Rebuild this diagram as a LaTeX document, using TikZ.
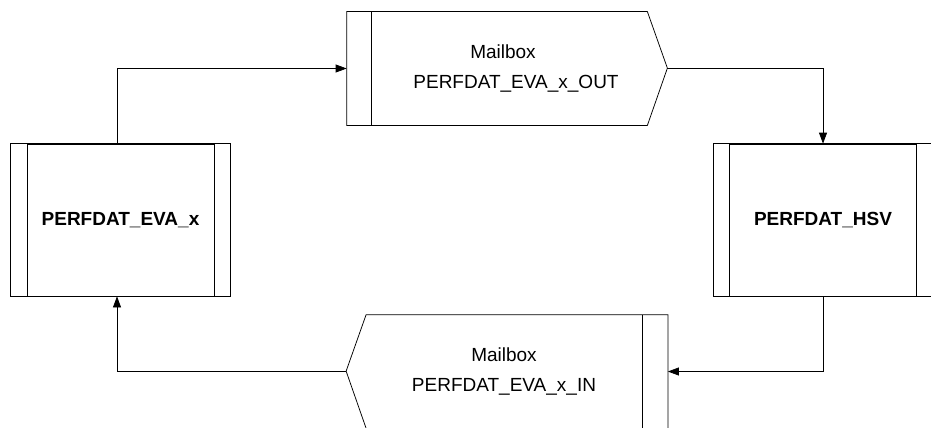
\documentclass[tikz,border=0pt]{standalone}
\usepackage{fontspec}
\setmainfont{Liberation Sans}
\usetikzlibrary{arrows.meta}
\tikzset{
    process/.style={rectangle, draw, inner sep=0pt, minimum width=187pt, minimum height=152pt, font=\bfseries\fontsize{19}{23}\selectfont},
    mailbox/.style={rectangle, inner sep=0pt, minimum width=275pt, minimum height=113pt, align=center, font=\fontsize{19}{30}\selectfont},
    flow/.style={-{Triangle[length=11pt,width=8pt]}}
}
\begin{document}
\begin{tikzpicture}[x=1pt,y=-1pt,line width=0.75pt]
        \useasboundingbox (0,0) rectangle (931,428);
        \clip (0,0) rectangle (931,428);
        \node [process] (evax) at (120.5,220) {PERFDAT\_EVA\_x};
        \node [process] (hsv) at (823,220) {PERFDAT\_HSV};
        \node [mailbox] (mbout) at (509.5,68.5) {Mailbox\hspace*{13pt}\\\hspace*{13pt}PERFDAT\_EVA\_x\_OUT};
        \node [mailbox] (mbin) at (504,371.5) {Mailbox\\PERFDAT\_EVA\_x\_IN};
        \draw ([xshift=-16]evax.north west) rectangle ([xshift=16]evax.south east);
        \draw ([xshift=-16]hsv.north west) rectangle ([xshift=16]hsv.south east);
        \draw ([xshift=-25]mbout.north west) -- (mbout.north east) -- ++(20,56.5) coordinate (mbout tip)
            -- (mbout.south east) -- ([xshift=-25]mbout.south west) -- cycle;
        \draw (mbout.north west) -- (mbout.south west);
        \draw ([xshift=26]mbin.north east) -- (mbin.north west) -- ++(-20,56.5) coordinate (mbin tip)
            -- (mbin.south west) -- ([xshift=26]mbin.south east) -- cycle;
        \draw (mbin.north east) -- (mbin.south east);
        \draw [flow] ([xshift=-3.5]evax.north) |- ([xshift=-25]mbout.west);
        \draw [flow] (mbout tip) -| (hsv.north);
        \draw [flow] (hsv.south) |- ([xshift=26]mbin.east);
        \draw [flow] (mbin tip) -| ([xshift=-3.5]evax.south);
    \end{tikzpicture}
\end{document}
